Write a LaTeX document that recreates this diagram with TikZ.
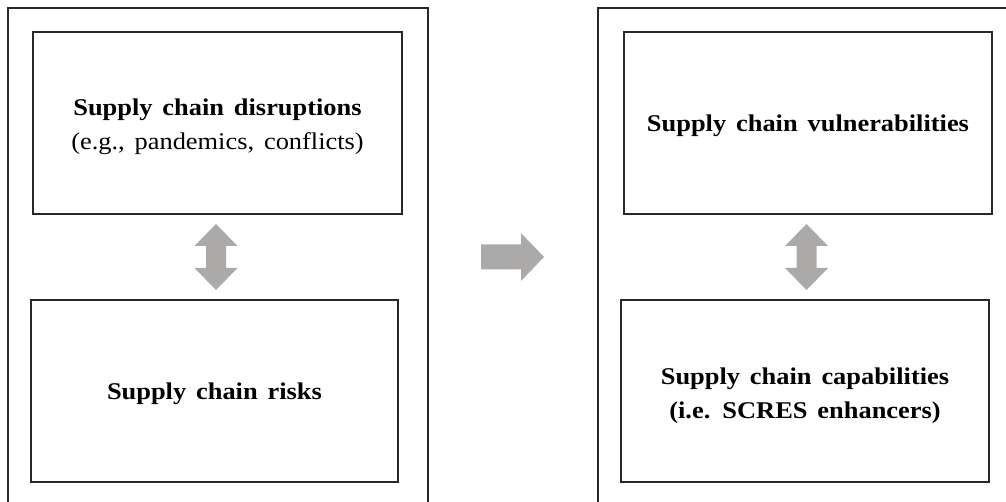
\documentclass[tikz,border=0pt]{standalone}
\usepackage{fontspec}
\setmainfont{Liberation Serif}[FakeStretch=1.1,WordSpace=1.5]
\usetikzlibrary{calc}
\definecolor{fatgray}{RGB}{172,169,169}
\definecolor{linecol}{RGB}{40,40,40}
\begin{document}
\begin{tikzpicture}[x=1pt,y=-1pt,
  frame/.style={draw=linecol,line width=1.4pt},
  box/.style={draw=linecol,line width=1.4pt,rectangle,inner sep=0pt,
    minimum width=368pt,minimum height=182pt},
  txt/.style={align=center,inner sep=0pt,font=\fontsize{24}{34}\selectfont},
  fat/.style={fill=fatgray}]
\useasboundingbox (0,0) rectangle (1006,502);
% outer frames, open past the page edges
\draw[frame] (8,510) -- (8,8) -- (428,8) -- (428,510);
\draw[frame] (598,510) -- (598,8) -- (1012,8);
% left column
\node[box,minimum width=369pt] (dis) at (217.5,123) {};
\node[box,minimum width=367pt] (risk) at (214.5,391) {};
\node[txt] (distxt) at ([yshift=-4pt]dis.center)
  {\textbf{Supply chain disruptions}\\(e.g., pandemics,\ conflicts)};
\node[txt] (risktxt) at ([yshift=-3pt]risk.center) {\textbf{Supply chain risks}};
% right column
\node[box] (vul) at (808,123) {};
\node[box] (cap) at (805,391) {};
\node[txt] (vultxt) at ([yshift=-3pt]vul.center) {\textbf{Supply chain vulnerabilities}};
\node[txt] (captxt) at ([yshift=-5pt]cap.center)
  {\textbf{Supply chain capabilities}\\\textbf{(i.e. SCRES enhancers)}};
% two-way arrows between the boxes of each column
\coordinate (lm) at ($(dis.south)!0.5!(risk.north)$);
\coordinate (rm) at ($(vul.south)!0.5!(cap.north)$);
\foreach \c in {lm,rm}{
  \fill[fat] (\c) ++(0,-33) -- ++(21.5,22) -- ++(-11.5,0) -- ++(0,22)
    -- ++(11.5,0) -- ++(-21.5,22) -- ++(-21.5,-22) -- ++(11.5,0)
    -- ++(0,-22) -- ++(-11.5,0) -- cycle;
}
% arrow from the left frame to the right frame
\coordinate (mid) at (512.5,257);
\fill[fat] (mid) ++(-31.5,-12.5) -- ++(40,0) -- ++(0,-11.5) -- ++(23,24)
  -- ++(-23,24) -- ++(0,-11.5) -- ++(-40,0) -- cycle;
\end{tikzpicture}
\end{document}
